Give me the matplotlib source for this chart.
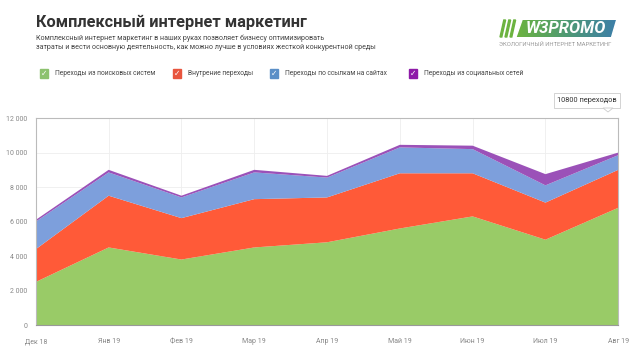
import matplotlib.pyplot as plt
import numpy as np
from matplotlib.patches import Rectangle, Polygon, FancyBboxPatch
from matplotlib.colors import LinearSegmentedColormap

plt.rcParams['font.family'] = ['Roboto', 'DejaVu Sans']

months = ['Дек 18', 'Янв 19', 'Фев 19', 'Мар 19', 'Апр 19', 'Май 19', 'Июн 19', 'Июл 19', 'Авг 19']
search = [2500, 4500, 3800, 4500, 4800, 5600, 6300, 4950, 6800]
internal = [1900, 3000, 2400, 2800, 2600, 3200, 2500, 2150, 2200]
links = [1600, 1350, 1200, 1550, 1150, 1500, 1400, 1000, 850]
social = [100, 150, 100, 150, 100, 150, 200, 650, 150]
series_names = ['Переходы из поисковых систем', 'Внутрение переходы',
                'Переходы по ссылкам на сайтах', 'Переходы из социальных сетей']
y_ticks = [0, 2000, 4000, 6000, 8000, 10000, 12000]
tooltip_text = '10800 переходов'

area_colors = ['#99cb67', '#ff5a38', '#7d9fdc', '#9b51b8']
box_colors = ['#8dc26f', '#e8553e', '#5b8fc7', '#8e1aa8']

fig = plt.figure(figsize=(6.4, 3.6), dpi=100)
ax = fig.add_axes([0.056, 0.097, 0.910, 0.575])

x = np.arange(len(months))
ax.stackplot(x, search, internal, links, social, colors=area_colors, linewidth=0, zorder=2)
ax.set_xlim(0, len(months) - 1)
ax.set_ylim(0, 12000)
ax.set_yticks(y_ticks)
ax.set_yticklabels([f'{v:,}'.replace(',', ' ') for v in y_ticks], fontsize=5, color='#888888')
ax.set_xticks(x)
ax.set_xticklabels(months, fontsize=5, color='#888888')
for lbl in ax.get_xticklabels():
    lbl.set_va('baseline')
ax.tick_params(length=0, pad=6)
ax.tick_params(axis='x', pad=13)
ax.grid(True, color='#eeeeee', linewidth=0.6, zorder=0)
for s in ax.spines.values():
    s.set_color('#bbbbbb')
    s.set_linewidth(0.8)
ax.spines['bottom'].set_color('#999999')

# title and subtitle
fig.text(36 / 640, 1 - 22 / 360, 'Комплексный интернет маркетинг', fontsize=11.8,
         fontweight='bold', color='#333333', va='center')
fig.text(36 / 640, 1 - 38 / 360, 'Комплексный интернет маркетинг в наших руках позволяет бизнесу оптимизировать',
         fontsize=5.1, color='#444444', va='center')
fig.text(36 / 640, 1 - 47.5 / 360, 'затраты и вести основную деятельность, как можно лучше в условиях жесткой конкурентной среды',
         fontsize=5.1, color='#444444', va='center')

# logo
lax = fig.add_axes([516 / 640, 1 - 37 / 360, 100 / 640, 17 / 360])
grad = np.linspace(0, 1, 200).reshape(1, -1)
cmap = LinearSegmentedColormap.from_list('logo', ['#6cb33f', '#4f9a73', '#3d7fa8'])
lax.imshow(grad, aspect='auto', cmap=cmap, extent=[0, 1, 0, 1])
lax.add_patch(Polygon([[0, 0], [0.06, 1], [0, 1]], closed=True, color='white'))
lax.add_patch(Polygon([[0.95, 0], [1, 0], [1, 1]], closed=True, color='white'))
lax.text(0.5, 0.48, 'W3PROMO', fontsize=12, fontweight='bold', fontstyle='italic',
         color='white', ha='center', va='center')
lax.set_xlim(0, 1)
lax.set_ylim(0, 1)
lax.axis('off')
for i in range(3):
    x0 = 500 + i * 5
    fig.patches.append(Polygon([[x0 / 640, 1 - 37 / 360], [(x0 + 1.8) / 640, 1 - 37 / 360],
                                [(x0 + 5.6) / 640, 1 - 20 / 360], [(x0 + 3.8) / 640, 1 - 20 / 360]],
                               closed=True, color='#6cb33f', transform=fig.transFigure))
fig.text(555 / 640, 1 - 45 / 360, 'ЭКОЛОГИЧНЫЙ ИНТЕРНЕТ МАРКЕТИНГ', fontsize=4.2,
         color='#999999', ha='center', va='center')

# legend with checkboxes
legend_x = [40, 173, 270, 409]
for lx, name, c in zip(legend_x, series_names, box_colors):
    fig.patches.append(Rectangle((lx / 640, 1 - 77.5 / 360), 8 / 640, 8 / 360,
                                 color=c, transform=fig.transFigure))
    fig.text((lx + 4) / 640, 1 - 73.5 / 360, '✓', fontsize=5.5, color='white',
             ha='center', va='center', fontweight='bold', family=['DejaVu Sans'])
    fig.text((lx + 15) / 640, 1 - 73.5 / 360, name, fontsize=4.8, color='#444444', va='center')

# tooltip
fig.patches.append(FancyBboxPatch((554 / 640, 1 - 108 / 360), 66 / 640, 15 / 360,
                                  boxstyle='square,pad=0', facecolor='white',
                                  edgecolor='#cccccc', linewidth=0.6, transform=fig.transFigure))
fig.patches.append(Polygon([[603 / 640, 1 - 108 / 360], [613 / 640, 1 - 108 / 360],
                            [608 / 640, 1 - 112 / 360]], closed=True, facecolor='white',
                           edgecolor='#cccccc', linewidth=0.6, transform=fig.transFigure))
fig.text(587 / 640, 1 - 100.5 / 360, tooltip_text, fontsize=5.3, color='#333333',
         ha='center', va='center')

fig.savefig('out.png', dpi=100)
